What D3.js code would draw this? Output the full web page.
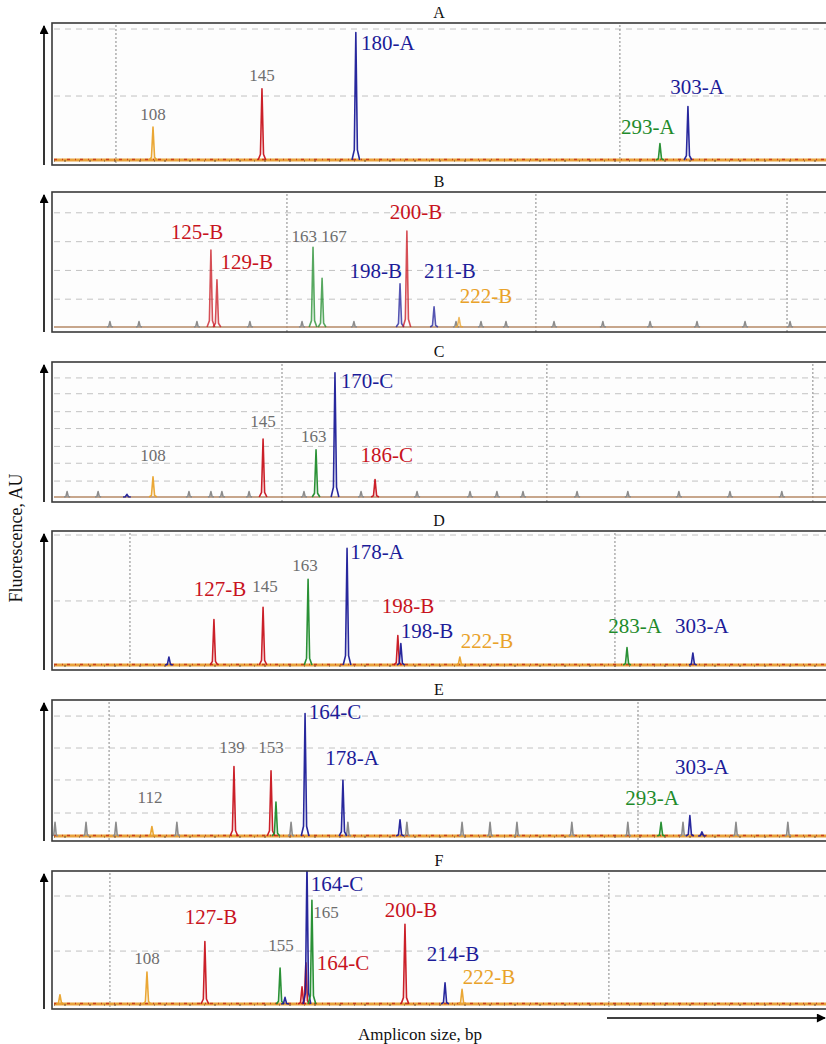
<!DOCTYPE html>
<meta charset="utf-8">
<style>
body { margin: 0; background: #fff; }
text { font-family: "Liberation Serif", "Times New Roman", serif; }
.frame { fill: none; stroke: #3a3a3a; stroke-width: 1.6px; }
.hgrid { stroke: #c2c2c2; stroke-dasharray: 6,5; stroke-width: 1px; }
.vgrid { stroke: #9a9a9a; stroke-dasharray: 2,2; stroke-width: 1.2px; }
.peak { fill: none; stroke-width: 1.6px; stroke-linejoin: round; }
</style>
<svg width="826" height="1044"></svg>
<script src="https://cdn.jsdelivr.net/npm/d3@7"></script>
<script>
// panel letters
var panelNames = ["A", "B", "C", "D", "E", "F"];

// peaks: [size (bp scale), height (% of panel), dye]
var peaksA = [[106.8, 24, "orange"], [146.5, 52, "red"], [180.7, 93, "blue"], [291.5, 12, "green"], [301.7, 39, "blue"]];
var peaksB = [[127.9, 57, "red"], [130.1, 35, "red"], [165.1, 59, "green"], [168.4, 36, "green"],
              [196.8, 32, "blue"], [199.3, 71, "red"], [209.2, 15, "blue"], [218.3, 7, "orange"]];
var peaksC = [[97.3, 2, "blue"], [106.8, 15, "orange"], [146.9, 43, "red"], [166.2, 35, "green"],
              [173.1, 92, "blue"], [187.7, 13, "red"]];
var peaksD = [[112.6, 6, "blue"], [129.0, 34, "red"], [146.9, 43, "red"], [163.3, 64, "green"], [177.5, 87, "blue"],
              [196.0, 22, "red"], [197.1, 16, "blue"], [218.6, 6, "orange"], [279.5, 13, "green"], [303.5, 9, "blue"]];
var peaksE = [[106.4, 7, "orange"], [136.3, 51, "red"], [149.8, 48, "red"], [151.6, 25, "green"], [162.2, 90, "blue"],
              [176.0, 41, "blue"], [196.8, 12, "blue"], [291.9, 10, "green"], [302.4, 15, "blue"], [306.8, 3, "blue"]];
var peaksF = [[72.9, 7, "orange"], [104.6, 24, "orange"], [125.7, 47, "red"], [153.1, 27, "green"], [154.9, 5, "blue"],
              [161.1, 13, "red"], [162.5, 31, "red"], [162.9, 106, "blue"], [164.7, 78, "green"], [198.6, 60, "red"],
              [213.2, 16, "blue"], [219.4, 11, "orange"]];

// size-standard ladder peaks (grey)
var ladderB = [91.1, 101.7, 122.8, 142.1, 161.1, 180.0, 217.2, 226.3, 235.4, 252.9, 270.7, 287.9, 305.0, 322.5, 338.9];
var ladderC = [75.5, 86.8, 119.9, 127.9, 131.9, 141.8, 161.8, 182.6, 203.0, 222.3, 232.1, 241.6, 261.3, 279.8, 298.4, 317.0, 335.9];
var ladderE = [71.1, 82.4, 93.3, 115.5, 157.1, 177.8, 199.3, 219.4, 229.6, 239.4, 259.4, 279.8, 299.9, 319.2, 338.1];
var ladderHeights = [0, 4, 4, 0, 10, 0];

// labels: [text, size, height, dye]
var labelsA = [["108", 106.8, 29, "gray"], ["145", 146.5, 58, "gray"], ["180-A", 192.4, 80, "blue"],
               ["293-A", 287.1, 19, "green"], ["303-A", 305.0, 48, "blue"]];
var labelsB = [["125-B", 122.8, 65, "red"], ["129-B", 141.0, 43, "red"], ["163 167", 167.3, 63, "gray"],
               ["198-B", 188.0, 36, "blue"], ["200-B", 202.6, 80, "red"], ["211-B", 215.0, 36, "blue"],
               ["222-B", 228.1, 18, "orange"]];
var labelsC = [["108", 106.8, 26.5, "gray"], ["145", 146.9, 52, "gray"], ["163", 165.4, 41, "gray"],
               ["170-C", 184.8, 81, "blue"], ["186-C", 192.0, 25.7, "red"]];
var labelsD = [["127-B", 131.2, 51.5, "red"], ["145", 147.6, 54.5, "gray"], ["163", 162.2, 70, "gray"],
               ["178-A", 188.4, 79, "blue"], ["198-B", 199.7, 38.8, "red"], ["198-B", 206.6, 20, "blue"],
               ["222-B", 228.5, 12.7, "orange"], ["283-A", 282.4, 24, "green"], ["303-A", 306.8, 24, "blue"]];
var labelsE = [["112", 105.7, 24, "gray"], ["139", 135.6, 61, "gray"], ["153", 149.8, 61, "gray"],
               ["164-C", 173.1, 86, "blue"], ["178-A", 179.3, 52, "blue"], ["293-A", 288.6, 23, "green"],
               ["303-A", 306.8, 45.6, "blue"]];
var labelsF = [["108", 104.6, 30, "gray"], ["127-B", 127.9, 60, "red"], ["155", 153.4, 40, "gray"],
               ["164-C", 173.8, 85, "blue"], ["165", 169.8, 64.7, "gray"], ["164-C", 176.0, 25.6, "red"],
               ["200-B", 200.8, 65.4, "red"], ["214-B", 216.1, 32.3, "blue"], ["222-B", 229.2, 15, "orange"]];

// grid lines
var vGrid = [[93.3, 276.9], [155.6, 246.3, 337.8], [153.8, 250.3, 347.2], [98.4, 275.1], [90.8, 283.5], [91.1, 272.9]];
var hGrid = [[95.6, 46.7], [84.6, 63.2, 41.9, 20.6], [88.2, 76.5, 63.2, 50.7, 37.5, 25.0, 11.8],
             [97.0, 47.8], [88.2, 64.7, 41.2, 16.9], [81.2, 39.8]];

var allPeaks = [peaksA, peaksB, peaksC, peaksD, peaksE, peaksF];
var allLabels = [labelsA, labelsB, labelsC, labelsD, labelsE, labelsF];
var allLadders = [[], ladderB, ladderC, [], ladderE, []];
var noisy = [true, false, false, true, true, true];

var dye = {blue: "#1c1c98", red: "#c8141e", green: "#1f8b2b", orange: "#e9a22a", gray: "#6e6e6e"};
var panelTops = [23, 192, 362, 531, 700, 871],
    panelBottoms = [165, 332, 502, 670, 841, 1009];

var svg = d3.select("svg");
var defs = svg.append("defs");
defs.append("marker")
    .attr("id", "arrow")
    .attr("viewBox", "0 0 10 10")
    .attr("refX", 9).attr("refY", 5)
    .attr("markerWidth", 10).attr("markerHeight", 9)
    .attr("markerUnits", "userSpaceOnUse")
    .attr("orient", "auto")
  .append("path")
    .attr("d", "M0,0L10,5L0,10z")
    .attr("fill", "#000");

var x = d3.scaleLinear().domain([70, 352]).range([52, 826]);
var halfW = 1.4;

panelNames.forEach(function(name, i) {
  var top = panelTops[i], bottom = panelBottoms[i];
  var y = d3.scaleLinear().domain([0, 100]).range([bottom - 5, top]);
  var g = svg.append("g").attr("class", "panel");

  defs.append("clipPath").attr("id", "clip" + i)
    .append("rect").attr("x", 52).attr("y", top).attr("width", 780).attr("height", bottom - top);

  g.append("rect").attr("x", 52).attr("y", top).attr("width", 780).attr("height", bottom - top)
    .attr("fill", "#fdfdfd");

  g.selectAll(".hgrid").data(hGrid[i]).enter().append("line")
    .attr("class", "hgrid")
    .attr("x1", 54).attr("x2", 826)
    .attr("y1", function(d) { return y(d); }).attr("y2", function(d) { return y(d); });

  g.selectAll(".vgrid").data(vGrid[i]).enter().append("line")
    .attr("class", "vgrid")
    .attr("x1", function(d) { return x(d); }).attr("x2", function(d) { return x(d); })
    .attr("y1", top + 2).attr("y2", bottom);

  var plot = g.append("g").attr("clip-path", "url(#clip" + i + ")");

  // baseline
  if (noisy[i]) {
    plot.append("line").attr("x1", 54).attr("x2", 826).attr("y1", y(0)).attr("y2", y(0))
      .attr("stroke", "#e8a23c").attr("stroke-width", 3);
    plot.append("line").attr("x1", 54).attr("x2", 826).attr("y1", y(0) - 0.5).attr("y2", y(0) - 0.5)
      .attr("stroke", "#c8401e").attr("stroke-width", 1.3).attr("stroke-dasharray", "3,5,1,4");
    plot.append("line").attr("x1", 54).attr("x2", 826).attr("y1", y(0) + 1).attr("y2", y(0) + 1)
      .attr("stroke", "#6a4a30").attr("stroke-width", 1).attr("stroke-dasharray", "1,9,2,13");
  } else {
    plot.append("line").attr("x1", 54).attr("x2", 826).attr("y1", y(0)).attr("y2", y(0))
      .attr("stroke", "#b48866").attr("stroke-width", 1.4);
  }

  var line = d3.line().x(function(d) { return x(d[0]); }).y(function(d) { return y(d[1]); });
  function shape(p, h, w) {
    return [[p - w, 0], [p - w * 0.4, h * 0.08], [p, h], [p + w * 0.4, h * 0.08], [p + w, 0]];
  }

  plot.selectAll(".ladder").data(allLadders[i]).enter().append("path")
    .attr("class", "peak ladder")
    .attr("stroke", "#8c8c8c")
    .attr("stroke-width", 1.2)
    .attr("d", function(d) { return line(shape(d, ladderHeights[i], 1.1)); });

  plot.selectAll(".dyepeak").data(allPeaks[i]).enter().append("path")
    .attr("class", "peak dyepeak")
    .attr("stroke", function(d) { return dye[d[2]]; })
    .attr("stroke-opacity", i === 1 ? 0.75 : 0.95)
    .attr("d", function(d) { return line(shape(d[0], d[1], halfW)); });

  g.append("rect").attr("class", "frame")
    .attr("x", 52).attr("y", top).attr("width", 790).attr("height", bottom - top);

  // title
  svg.append("text").attr("x", 439).attr("y", top - 5)
    .attr("text-anchor", "middle").attr("font-size", 16).attr("fill", "#111")
    .text(name);

  // y arrow
  svg.append("line").attr("x1", 44).attr("x2", 44).attr("y1", bottom).attr("y2", top + 3)
    .attr("stroke", "#000").attr("stroke-width", 1.6).attr("marker-end", "url(#arrow)");

  // labels
  g.selectAll(".lab").data(allLabels[i]).enter().append("text")
    .attr("class", "lab")
    .attr("x", function(d) { return x(d[1]); })
    .attr("y", function(d) { return y(d[2]); })
    .attr("text-anchor", "middle")
    .attr("font-size", function(d) { return d[3] === "gray" ? 17 : 21; })
    .attr("fill", function(d) { return dye[d[3]]; })
    .text(function(d) { return d[0]; });
});

// axis titles
svg.append("text")
  .attr("transform", "translate(22,538) rotate(-90)")
  .attr("text-anchor", "middle").attr("font-size", 18).attr("fill", "#111")
  .text("Fluorescence, AU");

svg.append("text").attr("x", 420).attr("y", 1040)
  .attr("text-anchor", "middle").attr("font-size", 17).attr("fill", "#111")
  .text("Amplicon size, bp");

svg.append("line").attr("x1", 607).attr("x2", 825).attr("y1", 1018).attr("y2", 1018)
  .attr("stroke", "#000").attr("stroke-width", 1.6).attr("marker-end", "url(#arrow)");
</script>
